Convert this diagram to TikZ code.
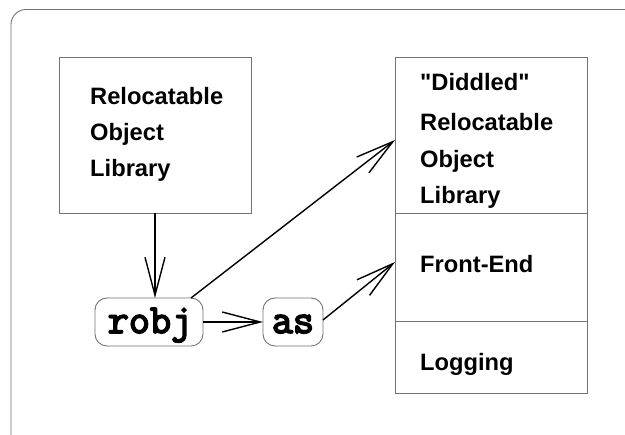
\documentclass[tikz,border=0pt]{standalone}
\usepackage{fontspec}
\setmainfont{Liberation Sans}[Ligatures=TeXOff]
\newfontfamily\codefont[FakeBold=4]{Latin Modern Mono}
\usetikzlibrary{arrows.meta}
\tikzset{
  box/.style={draw=black!55, line width=0.9pt, inner sep=0pt, outer sep=0pt, anchor=north west},
  pill/.style={box, rounded corners=12pt},
  lbl/.style={anchor=base west, inner sep=0pt, font=\fontsize{23.7}{28}\selectfont\bfseries},
  code/.style={anchor=base, inner sep=0pt, font=\fontsize{41}{44}\selectfont\codefont},
  arr/.style={draw=black, line width=1.4pt, -{Straight Barb[length=38pt,width=20pt,line width=1.4pt]}}
}
\begin{document}
\begin{tikzpicture}[x=1pt,y=-1pt]
\useasboundingbox (0,0) rectangle (625,435);
\fill[white] (0,0) rectangle (625,435);
\draw[black!55, line width=0.9pt, rounded corners=15pt] (11,9.5) rectangle (645,450);

\node[box, minimum width=192pt, minimum height=156pt] (lib) at (59,57) {};
\node[lbl] (l1) at (90,105) {Relocatable};
\node[lbl] (l2) at (90,141) {Object};
\node[lbl] (l3) at (90,177) {Library};

\node[box, minimum width=192pt, minimum height=156pt] (did) at (395,57) {};
\node[box, minimum width=192pt, minimum height=108pt] (front) at (395,213) {};
\node[box, minimum width=192pt, minimum height=72pt] (logg) at (395,321) {};
\node[lbl] (d1) at (420,91) {"Diddled"};
\node[lbl] (d2) at (420,131) {Relocatable};
\node[lbl] (d3) at (420,168) {Object};
\node[lbl] (d4) at (420,204) {Library};
\node[lbl] (f1) at (420,273) {Front-End};
\node[lbl] (g1) at (420,371) {Logging};

\node[pill, minimum width=108pt, minimum height=48pt] (robj) at (95,298) {};
\node[code] (robjt) at (150,333) {robj};
\node[pill, minimum width=60pt, minimum height=48pt] (as) at (263,298) {};
\node[code] (ast) at (293,333) {as};

\draw[arr] (lib.south) -- (lib.south |- robj.north);
\draw[arr] (robj.east) -- (as.west);
\draw[arr] ([xshift=-12pt]robj.north east) -- ([yshift=-5pt]did.west);
\draw[arr] ([yshift=2pt]as.east) -- ([yshift=5pt]front.west);
\end{tikzpicture}
\end{document}
